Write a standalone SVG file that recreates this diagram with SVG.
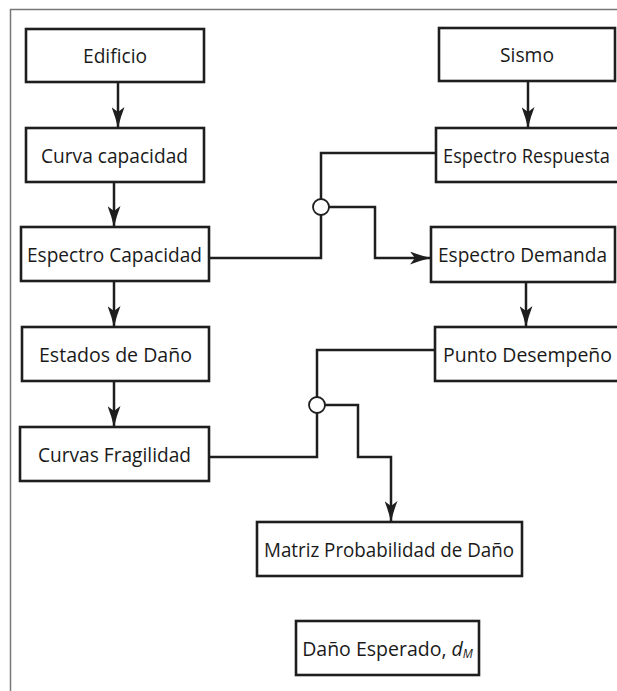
<svg xmlns="http://www.w3.org/2000/svg" width="617" height="691" viewBox="0 0 617 691">
<style>
.box{fill:#fff;stroke:#1e1e1e;stroke-width:2.6}
.t{font-family:"Open Sans","Noto Sans",sans-serif;font-size:19.5px;fill:#1a1a1a;text-anchor:middle;dominant-baseline:central}
.tl{text-anchor:start}
.c{fill:none;stroke:#1e1e1e;stroke-width:2.5}
.j{fill:#fff;stroke:#1e1e1e;stroke-width:1.8}
.frame{fill:none;stroke:#777;stroke-width:1.5}
</style>
<defs>
<marker id="ah" viewBox="0 0 21 13" refX="21" refY="6.5" markerWidth="21" markerHeight="13" markerUnits="userSpaceOnUse" orient="auto">
<path d="M0,0 Q10,4 21,6.5 Q10,9 0,13 L5,6.5 Z" fill="#1e1e1e"/>
</marker>
</defs>
<rect width="617" height="691" fill="#fff"/>
<path class="frame" d="M10.5,691 V9.5 H617"/>
<g id="connectors">
<path class="c" d="M118,82 V128" marker-end="url(#ah)"/>
<path class="c" d="M114,182 V227" marker-end="url(#ah)"/>
<path class="c" d="M114,281 V327" marker-end="url(#ah)"/>
<path class="c" d="M114,381 V427" marker-end="url(#ah)"/>
<path class="c" d="M528,81 V128" marker-end="url(#ah)"/>
<path class="c" d="M526,282 V327" marker-end="url(#ah)"/>
<path class="c" d="M436,153 H321 V199"/>
<path class="c" d="M321,215 V258 H209"/>
<path class="c" d="M329,207 H375 V258 H431" marker-end="url(#ah)"/>
<path class="c" d="M435,350 H317 V397"/>
<path class="c" d="M317,413 V457 H209"/>
<path class="c" d="M325,405 H358 V457 H391 V522" marker-end="url(#ah)"/>
<circle class="j" cx="321" cy="207" r="8"/>
<circle class="j" cx="317" cy="405" r="8"/>
</g>
<g id="edificio"><rect class="box" x="26" y="29" width="178" height="53"/><text class="t" x="115" y="55.5" textLength="64" lengthAdjust="spacingAndGlyphs">Edificio</text></g>
<g id="curva-capacidad"><rect class="box" x="26" y="128" width="178" height="54"/><text class="t" x="114.5" y="155" textLength="147" lengthAdjust="spacingAndGlyphs">Curva capacidad</text></g>
<g id="espectro-capacidad"><rect class="box" x="21" y="227" width="188" height="54"/><text class="t" x="114.5" y="254" textLength="175" lengthAdjust="spacingAndGlyphs">Espectro Capacidad</text></g>
<g id="estados-dano"><rect class="box" x="22" y="327" width="187" height="54"/><text class="t" x="115.5" y="354" textLength="153" lengthAdjust="spacingAndGlyphs">Estados de Daño</text></g>
<g id="curvas-fragilidad"><rect class="box" x="20" y="427" width="189" height="54"/><text class="t" x="114.5" y="454" textLength="153" lengthAdjust="spacingAndGlyphs">Curvas Fragilidad</text></g>
<g id="sismo"><rect class="box" x="439" y="28" width="176" height="53"/><text class="t" x="527" y="54.5" textLength="54" lengthAdjust="spacingAndGlyphs">Sismo</text></g>
<g id="espectro-respuesta"><rect class="box" x="436" y="128" width="200" height="54"/><text class="t tl" x="443" y="155" textLength="167" lengthAdjust="spacingAndGlyphs">Espectro Respuesta</text></g>
<g id="espectro-demanda"><rect class="box" x="431" y="227" width="184" height="55"/><text class="t" x="522.5" y="254.5" textLength="169" lengthAdjust="spacingAndGlyphs">Espectro Demanda</text></g>
<g id="punto-desempeno"><rect class="box" x="435" y="327" width="200" height="54"/><text class="t tl" x="443" y="354" textLength="169" lengthAdjust="spacingAndGlyphs">Punto Desempeño</text></g>
<g id="matriz"><rect class="box" x="257" y="522" width="265" height="54"/><text class="t" x="389" y="549" textLength="250" lengthAdjust="spacingAndGlyphs">Matriz Probabilidad de Daño</text></g>
<g id="dano-esperado"><rect class="box" x="296" y="621" width="183" height="54"/><text class="t" x="387.5" y="648">Daño Esperado, <tspan font-style="italic">d</tspan><tspan font-style="italic" font-size="12" dy="5">M</tspan></text></g>
</svg>
